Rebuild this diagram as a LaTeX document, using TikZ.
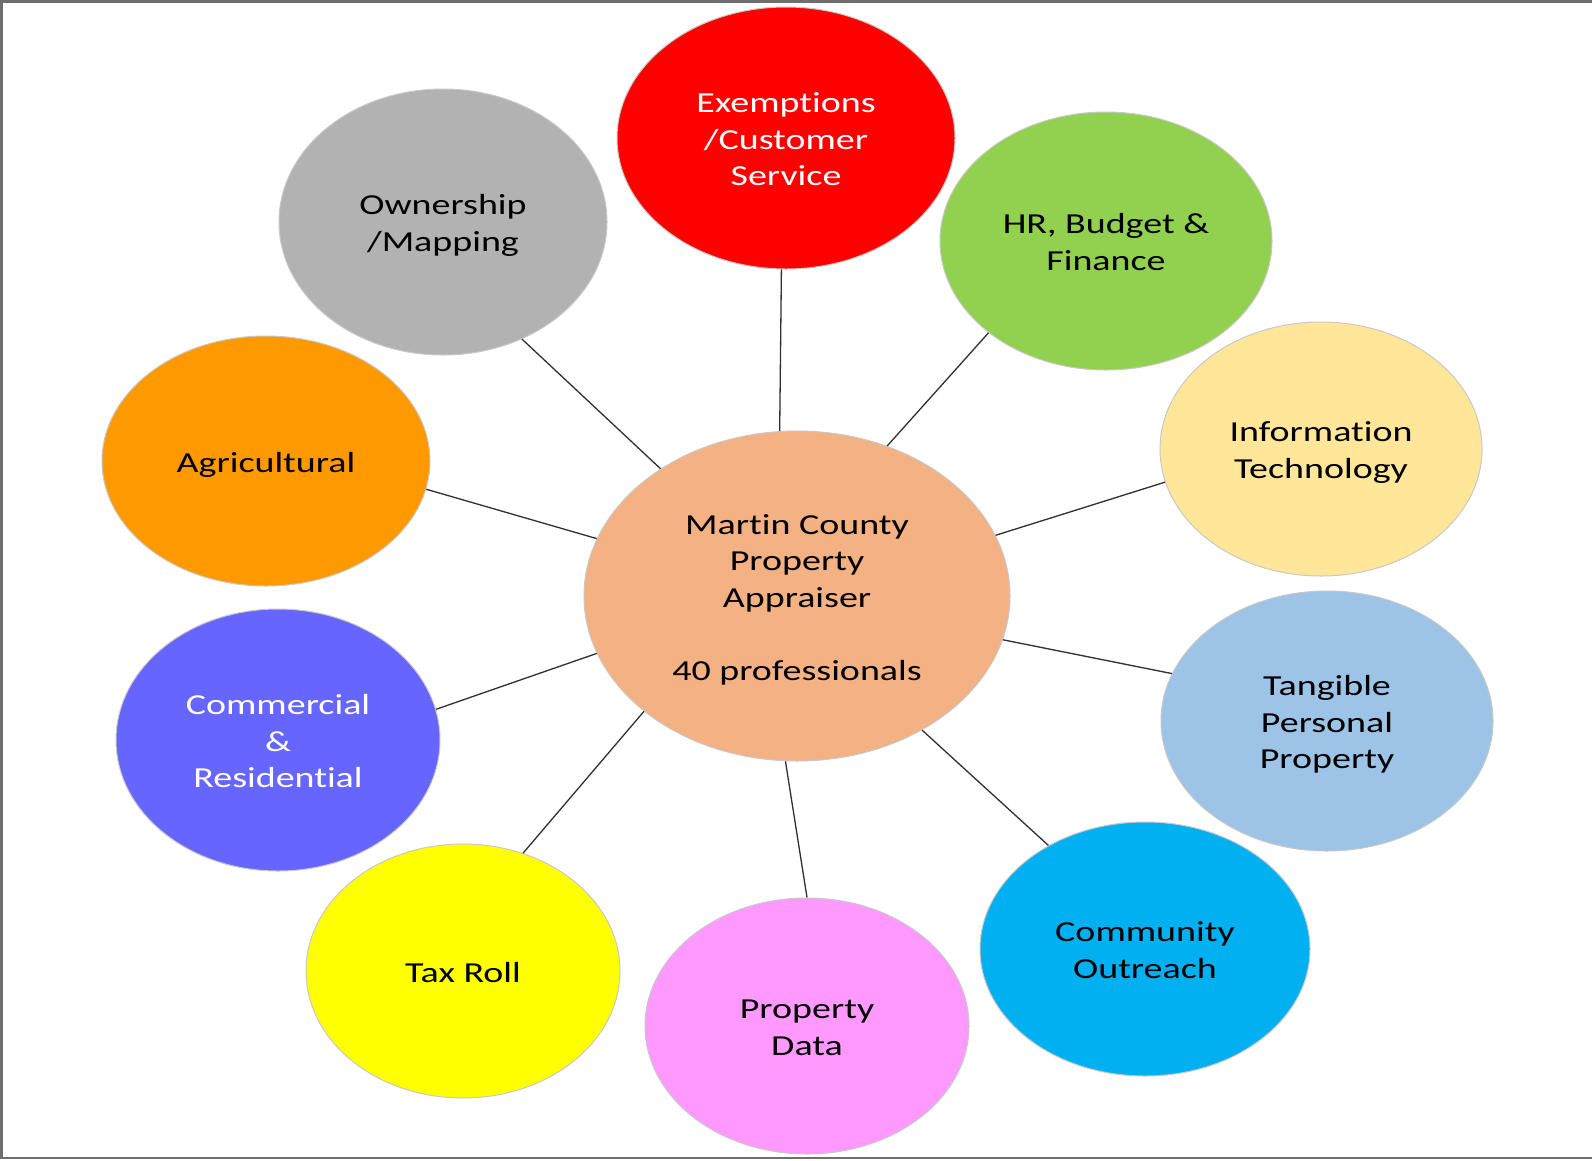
\documentclass[tikz,border=0pt]{standalone}
\usepackage{fontspec}
\setmainfont{Carlito}[FakeStretch=1.31, Ligatures=NoCommon,
  Contextuals=NoAlternate, RawFeature=-clig]
\usetikzlibrary{shapes.geometric}

\definecolor{frameGray}{HTML}{6E6E6E}
\definecolor{ringGray}{HTML}{C8C8C8}
\definecolor{linkGray}{HTML}{303030}
\definecolor{cCenter}{HTML}{F4B183}
\definecolor{cExempt}{HTML}{FF0000}
\definecolor{cOwner}{HTML}{B2B2B2}
\definecolor{cHR}{HTML}{92D050}
\definecolor{cIT}{HTML}{FFE699}
\definecolor{cAgri}{HTML}{FF9900}
\definecolor{cTPP}{HTML}{9DC3E6}
\definecolor{cComm}{HTML}{6666FF}
\definecolor{cOut}{HTML}{00B0F0}
\definecolor{cTax}{HTML}{FFFF00}
\definecolor{cData}{HTML}{FF99FF}

% fixed line struts so every label sits on the same metric box
\newcommand\firstln{\rule{0pt}{28pt}}
\newcommand\lastln{\rule[-6pt]{0pt}{6pt}}

\tikzset{
  bubble/.style args={#1/#2/#3}{ellipse, draw=ringGray, line width=1pt,
    fill=#1, minimum width=#2pt, minimum height=#3pt, inner sep=0pt,
    align=center, font=\fontsize{29}{36.5}\selectfont},
  link/.style={draw=linkGray, line width=1.3pt},
}

\begin{document}
\begin{tikzpicture}[x=1pt,y=-1pt]
  \useasboundingbox (0,0) rectangle (1592,1160);
  \fill[white] (0,0) rectangle (1592,1160);
  % outer frame, open on the right
  \draw[frameGray, line width=2.2pt] (1592,1.5) -- (1.5,1.5) -- (1.5,1158) -- (1592,1158);

  % hub
  \node[bubble={cCenter/426/330}] (hub) at (797,596)
    {\firstln Martin County\\Property\\Appraiser\\[36.5pt]40 professionals\lastln};

  % departments
  \node[bubble={cExempt/338/262}, text=white] (exempt) at (786,138)
    {\firstln Exemptions\\/Customer\\Service\lastln};
  \node[bubble={cOwner/328/266}] (owner) at (443,222)
    {\firstln Ownership\\/Mapping\lastln};
  \node[bubble={cHR/332/258}] (hr) at (1106,241)
    {\firstln HR, Budget \&\\Finance\lastln};
  \node[bubble={cIT/322/254}] (it) at (1321,449)
    {\firstln Information\\Technology\lastln};
  \node[bubble={cAgri/328/250}] (agri) at (266,461)
    {\firstln Agricultural\lastln};
  \node[bubble={cTPP/332/260}] (tpp) at (1327,721)
    {\firstln Tangible\\Personal\\Property\lastln};
  \node[bubble={cComm/324/262}, text=white] (comm) at (278,740)
    {\firstln Commercial\\\&\\Residential\lastln};
  \node[bubble={cOut/330/254}] (outreach) at (1145,949)
    {\firstln Community\\Outreach\lastln};
  \node[bubble={cTax/314/254}] (tax) at (463,971)
    {\firstln Tax Roll\lastln};
  \node[bubble={cData/324/256}] (data) at (807,1026)
    {\firstln Property\\Data\lastln};

  % spokes
  \draw[link] (hub.96.2)  -- (exempt.268.2);
  \draw[link] (hub.59.2)  -- (hr.218.5);
  \draw[link] (hub.17.9)  -- (it.192.6);
  \draw[link] (hub.-12.6) -- (tpp.163.9);
  \draw[link] (hub.-47.2) -- (outreach.133.1);
  \draw[link] (hub.266.9) -- (data.90);
  \draw[link] (hub.217.2) -- (tax.63.8);
  \draw[link] (hub.196.2) -- (comm.11);
  \draw[link] (hub.164.7) -- (agri.-10.3);
  \draw[link] (hub.137.8) -- (owner.-56.3);
\end{tikzpicture}
\end{document}
